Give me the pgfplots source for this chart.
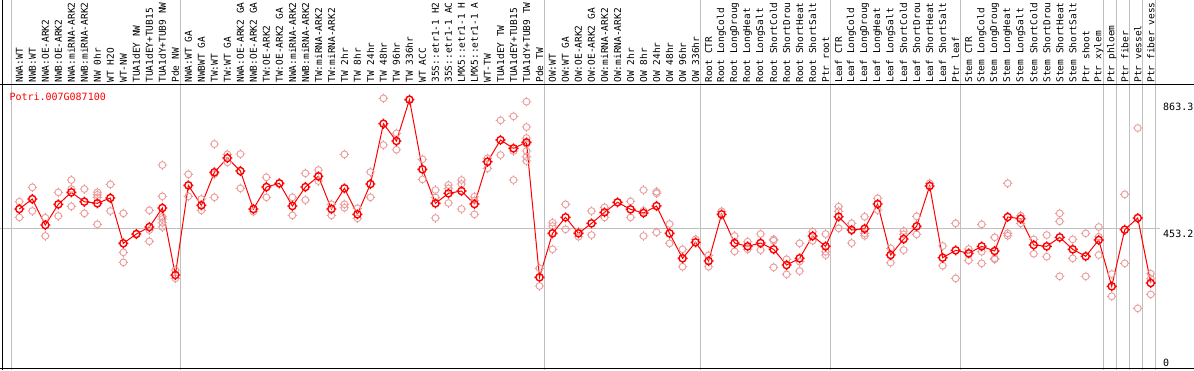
\documentclass[border=0pt]{standalone}
\usepackage{fontspec}
\usepackage{pgfplots}
\pgfplotsset{compat=1.18}
\newfontfamily\mono{DejaVu Sans Mono}
\definecolor{rep}{RGB}{235,155,155}
\definecolor{sep}{RGB}{192,192,192}
\definecolor{mred}{RGB}{255,0,0}
\pgfdeclareplotmark{gear}{%
  \pgfpathcircle{\pgfpointorigin}{\pgfplotmarksize}%
  \pgfpathmoveto{\pgfqpoint{0pt}{\pgfplotmarksize}}\pgfpathlineto{\pgfqpoint{0pt}{1.4\pgfplotmarksize}}%
  \pgfpathmoveto{\pgfqpoint{0pt}{-\pgfplotmarksize}}\pgfpathlineto{\pgfqpoint{0pt}{-1.4\pgfplotmarksize}}%
  \pgfpathmoveto{\pgfqpoint{\pgfplotmarksize}{0pt}}\pgfpathlineto{\pgfqpoint{1.4\pgfplotmarksize}{0pt}}%
  \pgfpathmoveto{\pgfqpoint{-\pgfplotmarksize}{0pt}}\pgfpathlineto{\pgfqpoint{-1.4\pgfplotmarksize}{0pt}}%
  \pgfusepathqstroke}
\pgfplotstableread{
x y
1 538.0
1 488.2
2 583.9
2 508.3
3 487.0
3 428.7
4 567.9
4 492.4
5 607.1
5 578.4
5 523.3
6 578.4
6 501.0
7 568
7 560
7 552
7 466
8 593.4
8 508.3
9 501.0
9 376.7
9 344.8
10 435.0
11 510.6
11 447.8
11 411.8
12 654.9
12 555.2
12 490.2
12 483
12 471
12 457.3
13 320.3
13 293.8
14 625.3
14 555.2
15 546.6
15 510.6
16 721.9
16 626.2
16 552.0
17 689.0
17 663.5
18 690.0
18 580.7
19 506.1
20 615.7
20 552.0
21 596.6
22 552.0
22 494.6
23 628.5
23 543.4
24 639.0
24 603.9
25 529.7
25 494.6
26 689.0
26 529.7
26 518.8
27 516.9
27 485.1
28 632.6
28 552.0
29 867.5
29 718.7
30 756.0
30 703.7
31 863.3
32 673.1
32 609.3
33 575.3
33 552.0
33 486.0
34 591.2
34 580.7
34 533.8
35 607.1
35 594.4
35 514.7
36 553.9
36 542
36 497.8
37 676.3
37 644.4
38 797.4
38 686.8
39 810.1
39 699.5
39 607.1
40 856.7
40 776.0
40 741
40 722
40 699.5
40 681
40 667.7
41 325.7
41 269.3
42 471.0
42 460.5
42 386.3
43 529.7
43 450.0
44 442.4
44 426.4
45 508.3
45 431.8
46 520.1
46 488.2
47 536.1
48 539.2
48 488.2
49 575.3
49 509.3
49 428.7
50 569.8
50 564.7
50 440.4
51 466.9
51 405.4
52 386.3
52 330.8
53 418.1
54 367.1
54 330.8
55 507.4
56 428.7
56 379.9
57 410.5
57 386.3
58 435.0
58 384.0
59 418.1
59 413.7
59 328.9
60 354.4
60 306.6
61 405.4
61 347
61 317.1
62 442.4
62 413.7
63 435.0
63 378.6
63 368.1
64 522.0
64 507.4
64 453.2
65 469.1
65 406.3
66 490.2
66 437.3
66 429.6
67 548.8
67 511.5
68 389.4
68 343.6
69 444.6
69 434.1
69 384.0
70 491.4
70 434.1
71 596.6
72 396.8
72 334.0
73 469.1
73 293.8
74 387.2
74 351.2
75 465.9
75 378.6
75 341.6
76 424.5
76 357.6
76 354.4
77 596.6
77 437.3
77 429.6
78 493.3
78 469.1
79 418.1
79 372.2
80 431.8
80 362.7
81 501.0
81 475.5
81 300.2
82 418.1
82 357.6
83 437.3
83 300.2
84 457.3
84 426.4
84 368.1
85 307.5
85 236.5
86 561.5
86 341.6
87 772.8
87 198.2
88 308.5
88 292.5
88 242.8
}\reps
\pgfplotstableread{
x y
1 514.7
2 546.6
3 463.7
4 529.7
5 567.9
6 538.0
7 532.9
8 549.8
9 405.4
10 435.0
11 457.3
12 517.9
13 304.4
14 590.2
15 526.5
16 631.7
17 677.2
18 635.8
19 514.7
20 584.8
21 596.6
22 524.3
23 584.8
24 618.9
25 514.7
26 580.7
27 497.8
28 594.4
29 786.5
30 731.4
31 863.3
32 641.2
33 532.9
34 564.7
35 572.1
36 530.6
37 665.4
38 734.6
39 708.2
40 727.3
41 297.0
42 437.3
43 488.2
44 437.3
45 469.1
46 504.2
47 536.1
48 513.7
49 502.0
50 524.3
51 437.3
52 357.6
53 408.6
54 349.0
55 497.8
56 406.3
57 395.8
58 406.3
59 386.3
60 336.2
61 357.6
62 428.7
63 395.8
64 490.2
65 447.8
66 451.9
67 530.6
68 368.1
69 419.1
70 459.6
71 588.0
72 359.5
73 383.1
74 373.5
75 395.8
76 380.8
77 489.2
78 483.8
79 400.0
80 395.8
81 424.5
82 386.3
83 364.0
84 415.9
85 268.3
86 448.7
87 486.0
88 278.9
}\means
\begin{document}
\begin{tikzpicture}[x=1pt,y=1pt]
\useasboundingbox (0,0) rectangle (1194,370);
\clip (0,0) rectangle (1194,370);
\fill[white] (0,0) rectangle (1194,370);
\foreach \X in {11,180.2,544.3,700.4,830.5,960.5,1103.6,1116.6,1129.6,1142.6,1155.6}
  \draw[sep,line width=1pt] (\X,0) -- (\X,370);
\draw[sep,line width=1pt] (0,141.7) -- (1160,141.7);
\begin{axis}[at={(2pt,2pt)}, anchor=south west, scale only axis,
  width=1154pt, height=283pt,
  xmin=-0.33, xmax=88.4, ymin=8, ymax=910,
  axis line style={draw=none}, major tick length=0pt,
  ytick=\empty, xtick={1,...,88},
  xticklabel pos=upper,
  xticklabel style={rotate=90, anchor=west, inner xsep=2.3pt, inner ysep=0pt,
    font=\mono\fontsize{9.5}{10}\selectfont},
  xticklabels={NWA:WT,NWB:WT,NWA:OE-ARK2,NWB:OE-ARK2,NWA:miRNA-ARK2,NWB:miRNA-ARK2,NW 0hr,WT H2O,WT-NW,TUA1dEY NW,TUA1dEY+TUB15,TUA1dY+TUB9 NW,Pde NW,
    NWA:WT GA,NWBWT GA,TW:WT,TW:WT GA,NWA:OE-ARK2 GA,NWB:OE-ARK2 GA,TW:OE-ARK2,TW:OE-ARK2 GA,NWA:miRNA-ARK2,NWB:miRNA-ARK2,TW:miRNA-ARK2,TW:miRNA-ARK2,TW 2hr,TW 8hr,TW 24hr,TW 48hr,TW 96hr,TW 336hr,WT ACC,35S::etr1-1 H2,35S::etr1-1 AC,LMX5::etr1-1 H,LMX5::etr1-1 A,WT-TW,TUA1dEY TW,TUA1dEY+TUB15,TUA1dY+TUB9 TW,Pde TW,
    OW:WT,OW:WT GA,OW:OE-ARK2,OW:OE-ARK2 GA,OW:miRNA-ARK2,OW:miRNA-ARK2,OW 2hr,OW 8hr,OW 24hr,OW 48hr,OW 96hr,OW 336hr,
    Root CTR,Root LongCold,Root LongDroug,Root LongHeat,Root LongSalt,Root ShortCold,Root ShortDrou,Root ShortHeat,Root ShortSalt,Ptr root,
    Leaf CTR,Leaf LongCold,Leaf LongDroug,Leaf LongHeat,Leaf LongSalt,Leaf ShortCold,Leaf ShortDrou,Leaf ShortHeat,Leaf ShortSalt,Ptr leaf,
    Stem CTR,Stem LongCold,Stem LongDroug,Stem LongHeat,Stem LongSalt,Stem ShortCold,Stem ShortDrou,Stem ShortHeat,Stem ShortSalt,Ptr shoot,Ptr xylem,
    Ptr phloem,Ptr fiber,Ptr vessel,Ptr fiber vess},
  clip=false]
\addplot[only marks, mark=gear, mark size=3.4pt, rep, line width=0.9pt] table[x=x,y=y] {\reps};
\addplot[mred, line width=1pt, mark=gear, mark size=3.6pt, mark options={line width=1.4pt, mred}] table[x=x,y=y] {\means};
\end{axis}
\draw[black,line width=1pt] (2,0) -- (2,370);
\draw[black,line width=1pt] (0,285) -- (1194,285);
\draw[black,line width=1pt] (0,2) -- (1194,2);
\node[anchor=base west, inner sep=0pt, text=mred, font=\mono\fontsize{10}{11}\selectfont] at (9.3,269.5) {Potri.007G087100};
\node[anchor=base west, inner sep=0pt, font=\mono\fontsize{10}{11}\selectfont] at (1163,259.3) {863.3};
\node[anchor=base west, inner sep=0pt, font=\mono\fontsize{10}{11}\selectfont] at (1163,133) {453.2};
\node[anchor=base west, inner sep=0pt, font=\mono\fontsize{10}{11}\selectfont] at (1163,4) {0};
\end{tikzpicture}
\end{document}
